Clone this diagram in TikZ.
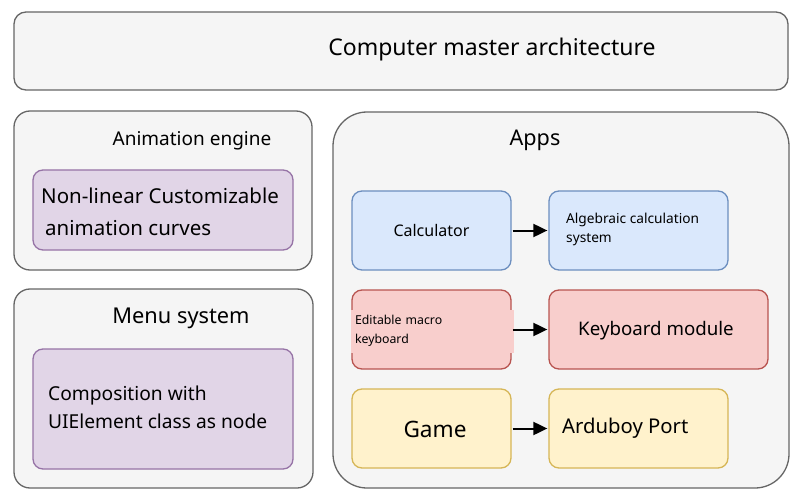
\documentclass[tikz,border=0pt]{standalone}
\usepackage{fontspec}
\setmainfont{Noto Sans}
\usetikzlibrary{arrows.meta}
\definecolor{grayfill}{HTML}{F5F5F5}
\definecolor{graydraw}{HTML}{666666}
\definecolor{purfill}{HTML}{E1D5E7}
\definecolor{purdraw}{HTML}{9673A6}
\definecolor{bluefill}{HTML}{DAE8FC}
\definecolor{bluedraw}{HTML}{6C8EBF}
\definecolor{redfill}{HTML}{F8CECC}
\definecolor{reddraw}{HTML}{B85450}
\definecolor{yelfill}{HTML}{FFF2CC}
\definecolor{yeldraw}{HTML}{D6B656}
\newcommand\fsz[2]{\fontsize{#1}{#2}\selectfont}
\begin{document}
\begin{tikzpicture}[x=1pt,y=-1pt,
  container/.style={draw=graydraw, fill=grayfill, line width=1.3pt, inner sep=0pt, rounded corners=#1},
  container/.default=16pt,
  cbox/.style 2 args={draw=#2, fill=#1, line width=1.3pt, inner sep=0pt, rounded corners=10pt, minimum width=159pt, minimum height=79pt},
  txt/.style={inner sep=0pt, text=black},
  conn/.style={-{Triangle[length=14pt,width=13pt]}, line width=2pt, black, shorten <=1pt, shorten >=1pt}]
\useasboundingbox[fill=white] (0,0) rectangle (800,497);

% top
\node[container=12pt, minimum width=774pt, minimum height=78pt] (top) at (401,51) {};
\node[txt, font=\fsz{23}{27}] (toptitle) at (492,50) {Computer master architecture};

% animation engine
\node[container, minimum width=298pt, minimum height=159pt] (anim) at (163,190.5) {};
\node[txt, font=\fsz{19}{22}] (animtitle) at (192,141) {Animation engine};
\node[cbox={purfill}{purdraw}, minimum width=260pt, minimum height=80pt] (curves) at (163,210) {};
\node[txt, font=\fsz{20.5}{32}, align=left, anchor=west] (curvestxt) at (41,212) {Non-linear Customizable\\\hspace{4pt}animation curves};

% menu system
\node[container, minimum width=299pt, minimum height=199pt] (menu) at (163.5,388.5) {};
\node[txt, font=\fsz{21.8}{26}] (menutitle) at (181,318) {Menu system};
\node[cbox={purfill}{purdraw}, minimum width=260pt, minimum height=120pt] (comp) at (163,409) {};
\node[txt, font=\fsz{19.2}{28}, align=left, anchor=west] (comptxt) at (48,407) {Composition with\\UIElement class as node};

% apps
\node[container=34pt, minimum width=456pt, minimum height=376pt] (apps) at (561,300) {};
\node[txt, font=\fsz{21.6}{25}] (appstitle) at (535,140) {Apps};

\node[cbox={bluefill}{bluedraw}, font=\fsz{16}{19}] (calc) at (431.5,230.5) {Calculator};
\node[cbox={bluefill}{bluedraw}, minimum width=179pt] (alg) at (638.5,230.5) {};
\node[txt, font=\fsz{13.7}{19}, align=left, anchor=west] (algtxt) at (566,229) {Algebraic calculation\\system};

\node[cbox={redfill}{reddraw}] (edit) at (431.5,329.5) {};
\node[txt, fill=redfill, minimum width=163pt, minimum height=43pt, font=\fsz{12.3}{19}, align=left, text width=154pt] (edittxt) at (432,331) {Editable macro\\keyboard};
\node[cbox={redfill}{reddraw}, minimum width=219pt] (kbd) at (658.5,329.5) {};
\node[txt, font=\fsz{18.7}{22}] (kbdtxt) at (656,331) {Keyboard module};

\node[cbox={yelfill}{yeldraw}] (game) at (431.5,428.5) {};
\node[txt, font=\fsz{22.6}{26}] (gametxt) at (435,429.5) {Game};
\node[cbox={yelfill}{yeldraw}, minimum width=179pt] (ard) at (638.5,428.5) {};
\node[txt, font=\fsz{20.3}{24}, anchor=west] (ardtxt) at (562,428.5) {Arduboy Port};

\draw[conn] (calc) -- (alg);
\draw[conn] (edit) -- (kbd);
\draw[conn] (game) -- (ard);
\end{tikzpicture}
\end{document}
